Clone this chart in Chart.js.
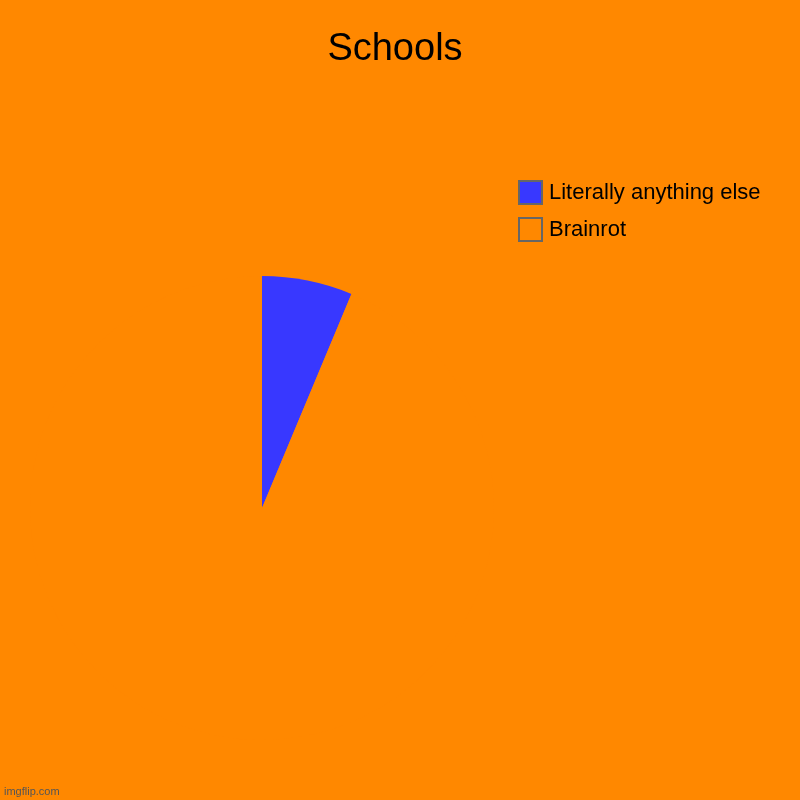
<!DOCTYPE html>
<html>
<head>
<meta charset="utf-8">
<script src="https://cdn.jsdelivr.net/npm/chart.js@4/dist/chart.umd.min.js"></script>
<style>
html,body{margin:0;padding:0;background:#ff8800;}
#wrap{position:relative;width:800px;height:800px;background:#ff8800;font-family:"Liberation Sans",Arial,sans-serif;}
#title{position:absolute;left:0;width:790px;top:26px;text-align:center;font-size:38px;color:#000;}
#c{position:absolute;left:0;top:0;}
.leg{position:absolute;left:518px;font-size:22px;color:#000;display:flex;align-items:center;}
.box{width:21px;height:21px;border:2px solid #666;margin-right:6px;}
#wm{position:absolute;left:4px;bottom:3px;font-size:11px;color:#555;}
</style>
</head>
<body>
<div id="wrap">
<canvas id="c" width="800" height="800"></canvas>
<div id="title">Schools</div>
<div id="legend"></div>
<div id="wm">imgflip.com</div>
</div>
<script>
const labels = ["Literally anything else", "Brainrot"];
const values = [6.3, 93.7];
const colors = ["#3838ff", "#ff8800"];

const leg = document.getElementById('legend');
labels.forEach((l, i) => {
  const d = document.createElement('div');
  d.className = 'leg';
  d.style.top = (179 + i * 37) + 'px';
  d.innerHTML = '<div class="box" style="background:' + colors[i] + '"></div><span>' + l + '</span>';
  leg.appendChild(d);
});

new Chart(document.getElementById('c'), {
  type: 'pie',
  data: { labels: labels, datasets: [{ data: values, backgroundColor: colors, borderWidth: 0 }] },
  options: {
    responsive: false,
    animation: false,
    layout: { padding: { left: 30, right: 306, top: 276, bottom: 60 } },
    plugins: { legend: { display: false }, title: { display: false }, tooltip: { enabled: false } }
  }
});
</script>
</body>
</html>
